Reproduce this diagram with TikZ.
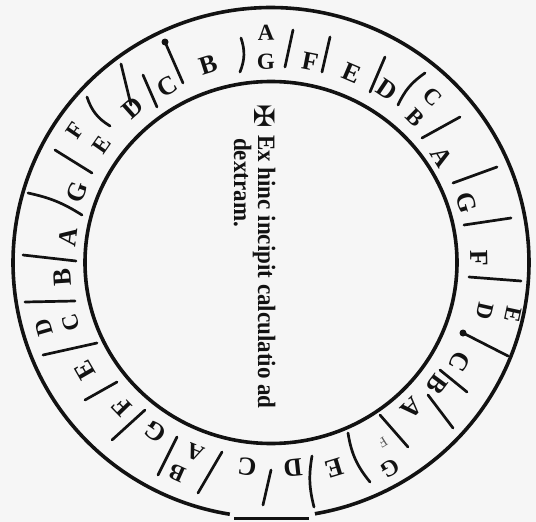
\documentclass[tikz,border=0pt]{standalone}
\usepackage{graphicx}
\usepackage{fontspec}
\setmainfont{Liberation Serif}
\newfontfamily\crossfont{DejaVu Sans}
\definecolor{paper}{RGB}{246,246,246}
\definecolor{ink}{RGB}{18,18,18}
\tikzset{
  ring/.style={draw=ink, line width=3.6pt},
  divider/.style={draw=ink, line width=2.7pt, line cap=round},
  single/.style={inner sep=0pt, font=\fontsize{26}{26}\selectfont\bfseries, text=ink},
  pairl/.style={inner sep=0pt, font=\fontsize{23}{23}\selectfont\bfseries, text=ink},
  smallpair/.style={inner sep=0pt, font=\fontsize{14}{14}\selectfont, text=ink!70},
  ctext/.style={inner sep=0pt, font=\fontsize{25}{25}\selectfont\bfseries, text=ink, rotate=-90, anchor=base west},
}
\newcommand\ringletter[5]{%
  \pgfmathsetmacro\rlang{atan2(262.5-#4,#3-271)-90}%
  \node[#1, rotate=\rlang] (#2) at (#3,#4) {#5};}
\begin{document}
\begin{tikzpicture}[x=1pt,y=-1pt]
\fill[paper] (0,0) rectangle (536,522);
\useasboundingbox (0,0) rectangle (536,522);
\coordinate (c) at (271,262.5);
% circles
\draw[ring] (c) ellipse [x radius=186, y radius=181];
\draw[ring] plot[domain=189.2:530.2, samples=240, smooth] ({271+258*sin(\x)},{262.5-255*cos(\x)});
\draw[ring] (234,518.5) -- (309,518.5);
% dividers
\draw[divider] (293,30) -- (285,67);
\draw[divider] (330,37) -- (322,72);
\draw[divider] (385,57) -- (370,92);
\draw[divider] (425,73) to[bend right=15] (398,105);
\draw[divider] (460,117) -- (422,138);
\draw[divider] (497,167) -- (453,183);
\draw[divider] (511,218) -- (464,225);
\draw[divider] (521,281) -- (469,277);
\draw[divider] (508,356) -- (463,333);
\fill[ink] (463,333) circle [radius=3.5];
\draw[divider] (467,392) -- (440,370);
\draw[divider] (453,428) -- (428,395);
\draw[divider] (408,447) -- (380,415);
\draw[divider] (348,433) to[bend right=15] (370,482);
\draw[divider] (312,456) to[bend right=12] (314,507);
\draw[divider] (263,505) -- (271,470);
\draw[divider] (198,493) -- (222,452);
\draw[divider] (158,475) -- (177,437);
\draw[divider] (112,440) -- (145,410);
\draw[divider] (85,400) -- (117,382);
\draw[divider] (43,355) -- (97,343);
\draw[divider] (25,302) -- (75,301);
\draw[divider] (23,255) -- (76,261);
\draw[divider] (28,193) to[bend left=10] (82,215);
\draw[divider] (55,150) -- (92,173);
\draw[divider] (87,97) to[bend right=20] (110,126);
\draw[divider] (121,64) -- (131,105);
\draw[divider] (143,75) -- (157,107);
\draw[divider] (165,42) -- (183,83);
\fill[ink] (165,42) circle [radius=3.5];
\draw[divider] (241,38) to[bend left=20] (240,72);
% letters, clockwise from the top
\ringletter{pairl}{a1}{266}{33}{A}
\ringletter{pairl}{g1}{266}{62}{G}
\ringletter{single}{f2}{310}{62}{F}
\ringletter{single}{e3}{352}{73}{E}
\ringletter{single}{d4}{387}{90}{D}
\ringletter{pairl}{c5}{433}{97}{C}
\ringletter{pairl}{b5}{415}{118}{B}
\ringletter{single}{a6}{442}{157}{A}
\ringletter{single}{g7}{467}{203}{G}
\ringletter{single}{f8}{479}{258}{F}
\ringletter{pairl}{e9}{513}{315}{E}
\ringletter{pairl}{d9}{485}{311}{D}
\ringletter{single}{c10}{460}{362}{C}
\ringletter{single}{b11}{437}{385}{B}
\ringletter{single}{a12}{412}{408}{A}
\ringletter{pairl}{g13}{390}{468}{G}
\ringletter{smallpair}{f13}{383}{442}{F}
\ringletter{single}{e14}{334}{468}{E}
\ringletter{single}{d15}{293}{468}{D}
\ringletter{single}{c16}{247}{467}{C}
\ringletter{pairl}{b17}{177}{473}{B}
\ringletter{pairl}{a17}{195}{452}{A}
\ringletter{single}{g18}{155}{432}{G}
\ringletter{single}{f19}{122}{407}{F}
\ringletter{single}{e20}{85}{370}{E}
\ringletter{pairl}{d21}{44}{328}{D}
\ringletter{pairl}{c21}{71}{323}{C}
\ringletter{single}{b22}{62}{277}{B}
\ringletter{single}{a23}{68}{237}{A}
\ringletter{single}{g24}{77}{192}{G}
\ringletter{pairl}{f25}{75}{130}{F}
\ringletter{pairl}{e25}{102}{145}{E}
\ringletter{single}{d26}{133}{108}{D}
\ringletter{single}{c27}{167}{86}{C}
\ringletter{single}{b28}{208}{65}{B}
% centre text
\node[inner sep=0pt, rotate=-90, text=ink, font=\crossfont\fontsize{28}{28}\selectfont] (cross) at (265,116) {✠};
\node[ctext] (line1) at (258,135) {\scalebox{0.92}[1]{Ex hinc incipit calculatio ad}};
\node[ctext] (line2) at (234,138) {\scalebox{0.92}[1]{dextram.}};
\end{tikzpicture}
\end{document}
